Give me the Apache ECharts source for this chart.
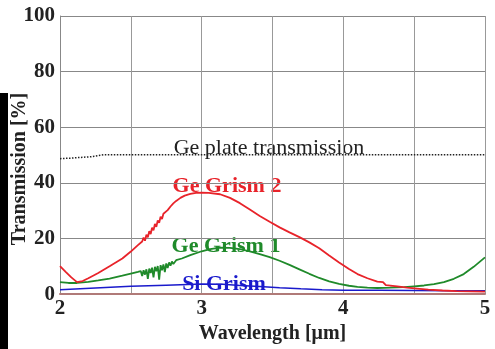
<!DOCTYPE html>
<html>
<head>
<meta charset="utf-8">
<script src="https://cdn.jsdelivr.net/npm/echarts@6/dist/echarts.min.js"></script>
<style>
  html, body { margin: 0; padding: 0; background: #fff; }
  #chart { width: 495px; height: 349px; }
</style>
</head>
<body>
<div id="chart"></div>
<script>
// [wavelength um, transmission %]
const gePlate = [
  [2.00, 48.7], [2.08, 48.9], [2.16, 49.2], [2.22, 49.4], [2.27, 49.8], [2.31, 50.1],
  [2.5, 50.1], [3.0, 50.1], [3.5, 50.1], [4.0, 50.1], [4.5, 50.1], [5.0, 50.1]
];
const geGrism2 = [
  [2.00, 10.1], [2.04, 8.0], [2.08, 6.0], [2.12, 4.3], [2.16, 4.7], [2.20, 5.7],
  [2.27, 7.6], [2.35, 10.0], [2.44, 12.8], [2.50, 15.3], [2.55, 17.6],
  [2.58, 18.9], [2.59, 20.3], [2.60, 19.2], [2.61, 21.4], [2.62, 20.4], [2.63, 22.6],
  [2.64, 21.6], [2.65, 23.9], [2.66, 22.9], [2.67, 25.2], [2.68, 24.2], [2.69, 26.5],
  [2.70, 25.6], [2.71, 27.8], [2.72, 27.0], [2.73, 28.9], [2.74, 28.5], [2.76, 30.2],
  [2.78, 31.5], [2.80, 32.6], [2.82, 33.5], [2.85, 34.6], [2.88, 35.4], [2.92, 36.0],
  [2.96, 36.4], [3.00, 36.5], [3.05, 36.4], [3.13, 35.9], [3.20, 34.6], [3.27, 32.7],
  [3.34, 30.4], [3.41, 28.1], [3.48, 26.0], [3.55, 24.0], [3.62, 22.2], [3.69, 20.5],
  [3.76, 18.6], [3.83, 16.5], [3.90, 13.9], [3.97, 11.4], [4.04, 9.0], [4.10, 7.2],
  [4.17, 5.7], [4.24, 4.5], [4.28, 4.3], [4.30, 3.2], [4.38, 2.8], [4.45, 2.3],
  [4.52, 2.0], [4.60, 1.6], [4.70, 1.3], [4.80, 1.1], [4.90, 1.0], [5.00, 0.9]
];
const geGrism1 = [
  [2.00, 4.3], [2.06, 4.0], [2.12, 4.0], [2.20, 4.4], [2.27, 4.9], [2.35, 5.6],
  [2.44, 6.6], [2.50, 7.4], [2.55, 8.0],
  [2.57, 8.3], [2.58, 6.5], [2.59, 8.6], [2.60, 7.0], [2.61, 8.9], [2.62, 5.5],
  [2.63, 9.2], [2.64, 7.6], [2.65, 9.5], [2.66, 6.0], [2.67, 9.8], [2.68, 8.2],
  [2.69, 10.1], [2.70, 5.2], [2.71, 10.4], [2.72, 8.6], [2.73, 10.7], [2.74, 7.9],
  [2.75, 11.0], [2.76, 9.4], [2.77, 11.4], [2.78, 10.2], [2.79, 11.7], [2.80, 10.8],
  [2.82, 12.2], [2.86, 12.8], [2.92, 14.0], [3.00, 15.4], [3.06, 16.2], [3.13, 16.7],
  [3.20, 16.6], [3.27, 16.2], [3.34, 15.4], [3.41, 14.4], [3.48, 13.3], [3.55, 12.0],
  [3.62, 10.5], [3.69, 8.9], [3.76, 7.3], [3.83, 5.8], [3.90, 4.6], [3.97, 3.7],
  [4.04, 3.0], [4.10, 2.6], [4.17, 2.3], [4.24, 2.2], [4.33, 2.3], [4.43, 2.5],
  [4.50, 2.8], [4.57, 3.1], [4.64, 3.6], [4.71, 4.3], [4.78, 5.5], [4.85, 7.2],
  [4.92, 9.8], [5.00, 13.2]
];
const siGrism = [
  [2.00, 1.6], [2.25, 2.2], [2.50, 2.8], [2.75, 3.2], [3.00, 3.6], [3.15, 3.5],
  [3.27, 3.1], [3.41, 2.7], [3.55, 2.3], [3.70, 1.9], [3.85, 1.6], [4.00, 1.4],
  [4.25, 1.4], [4.50, 1.3], [4.75, 1.2], [5.00, 1.2]
];
const xTickLabels = ['2', '3', '4', '5'];
const yTickLabels = ['0', '20', '40', '60', '80', '100'];

const serif = '"Liberation Serif", "Times New Roman", serif';

const chart = echarts.init(document.getElementById('chart'));

function line(name, data, color, type, width) {
  return {
    name: name,
    type: 'line',
    data: data,
    showSymbol: false,
    symbol: 'none',
    silent: true,
    animation: false,
    lineStyle: { color: color, width: width, type: type }
  };
}

chart.setOption({
  animation: false,
  grid: { left: 60, right: 10, top: 16, bottom: 45 },
  xAxis: {
    type: 'value',
    min: 2, max: 5, interval: 0.5,
    name: 'Wavelength [μm]',
    nameLocation: 'middle',
    nameGap: 26,
    nameTextStyle: { fontFamily: serif, fontWeight: 'bold', fontSize: 20, color: '#222' },
    axisLine: { show: true, lineStyle: { color: '#b07a78', width: 2 } },
    axisTick: { show: false },
    axisLabel: {
      fontFamily: serif, fontWeight: 'bold', fontSize: 21, color: '#222', margin: 4,
      formatter: function (v) {
        const s = String(v);
        return xTickLabels.indexOf(s) >= 0 ? s : '';
      }
    },
    splitLine: { show: true, lineStyle: { color: '#999', width: 1 } }
  },
  yAxis: {
    type: 'value',
    min: 0, max: 100, interval: 20,
    axisLine: { show: true, lineStyle: { color: '#888', width: 1 } },
    axisTick: { show: false },
    axisLabel: {
      fontFamily: serif, fontWeight: 'bold', fontSize: 21, color: '#222', margin: 5,
      formatter: function (v) {
        const s = String(v);
        return yTickLabels.indexOf(s) >= 0 ? s : '';
      }
    },
    splitLine: { show: true, lineStyle: { color: '#888', width: 1 } }
  },
  series: [
    line('Ge plate transmission', gePlate, '#222', 'dotted', 1.5),
    line('Si Grism', siGrism, '#1a1acc', 'solid', 1.5),
    line('Ge Grism 1', geGrism1, '#1f8a2a', 'solid', 1.8),
    line('Ge Grism 2', geGrism2, '#e8232a', 'solid', 1.8)
  ],
  graphic: [
    { type: 'rect', left: 0, top: 93, shape: { width: 8, height: 256 }, style: { fill: '#000' } },
    {
      type: 'text', x: 20, y: 169, rotation: Math.PI / 2,
      style: { text: 'Transmission [%]', font: 'bold 20px ' + serif, fill: '#222', align: 'center', verticalAlign: 'middle' }
    },
    {
      type: 'text', x: 269, y: 148,
      style: { text: 'Ge plate transmission', font: '22px ' + serif, fill: '#222', align: 'center', verticalAlign: 'middle' }
    },
    {
      type: 'text', x: 227, y: 186,
      style: { text: 'Ge Grism 2', font: 'bold 22px ' + serif, fill: '#e8232a', align: 'center', verticalAlign: 'middle' }
    },
    {
      type: 'text', x: 226, y: 246,
      style: { text: 'Ge Grism 1', font: 'bold 22px ' + serif, fill: '#1f8a2a', align: 'center', verticalAlign: 'middle' }
    },
    {
      type: 'text', x: 224, y: 284,
      style: { text: 'Si Grism', font: 'bold 22px ' + serif, fill: '#1a1acc', align: 'center', verticalAlign: 'middle' }
    }
  ]
});

window.addEventListener('resize', function () {
  chart.resize();
});
</script>
</body>
</html>
